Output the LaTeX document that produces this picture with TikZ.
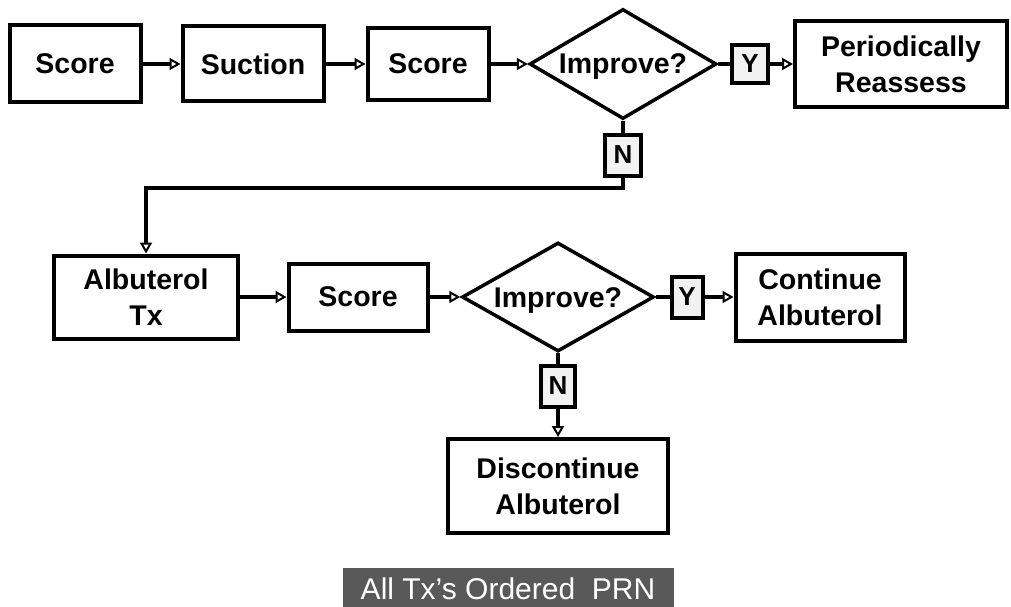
\documentclass[tikz,border=0pt]{standalone}
\usepackage{fontspec}
\setmainfont{Liberation Sans}
\usetikzlibrary{shapes.geometric}
\usetikzlibrary{arrows.meta}

\begin{document}
\begin{tikzpicture}[x=1pt, y=-1pt,
    box/.style={draw, line width=4pt, align=center, inner sep=0pt, font=\fontsize{28.5}{36}\selectfont\bfseries},
    ask/.style={draw, diamond, line width=3.5pt, inner sep=0pt, font=\fontsize{28.5}{36}\selectfont\bfseries},
    yn/.style={draw, fill=gray!10, line width=4pt, inner sep=0pt, font=\fontsize{26}{30}\selectfont\bfseries},
    flow/.style={line width=4pt, -{Triangle[open, length=11pt, width=12pt, line width=2pt]}},
    link/.style={line width=4pt}]
\useasboundingbox (0, 0) rectangle (1011, 607);
\node[box, minimum width=131, minimum height=77] (score1) at (75, 64) {Score};
\node[box, minimum width=141, minimum height=75] (suction) at (253, 64) {Suction};
\node[box, minimum width=121, minimum height=72] (score2) at (428, 64) {Score};
\node[ask, minimum width=187, minimum height=110] (improve1) at (623, 64) {\makebox[0pt]{\raisebox{-10pt}[0pt][0pt]{Improve?}}};
\node[yn, minimum width=36, minimum height=38] (yes1) at (750, 64) {Y};
\node[box, minimum width=212, minimum height=86] (reassess) at (901, 64) {Periodically\\Reassess};
\node[yn, minimum width=36, minimum height=41] (no1) at (623, 155) {N};
\coordinate (bend) at (623, 188);
\node[box, minimum width=184, minimum height=83] (albtx) at (146, 297) {Albuterol\\Tx};
\node[box, minimum width=139, minimum height=67] (score3) at (358, 297) {Score};
\node[ask, minimum width=192, minimum height=109] (improve2) at (558, 297) {\makebox[0pt]{\raisebox{-10pt}[0pt][0pt]{Improve?}}};
\node[yn, minimum width=31, minimum height=41] (yes2) at (687, 297) {Y};
\node[box, minimum width=169, minimum height=87] (contalb) at (820, 297) {Continue\\Albuterol};
\node[yn, minimum width=34, minimum height=41] (no2) at (558, 386) {N};
\node[box, minimum width=220, minimum height=94] (discalb) at (558, 486) {Discontinue\\Albuterol};
\node[fill=black!65, text=white, minimum width=331, minimum height=42, inner sep=0pt,
    font=\fontsize{30}{36}\selectfont] (prn) at (508, 589) {All Tx's Ordered\ \ PRN};
\draw[flow] (score1.east) -- (suction.west);
\draw[flow] (suction.east) -- (score2.west);
\draw[flow] (score2.east) -- (improve1.west);
\draw[link] (improve1.east) -- (yes1.west);
\draw[flow] (yes1.east) -- (reassess.west);
\draw[link] (improve1.south) -- (no1.north);
\draw[flow] (no1.south) -- (bend) -| (albtx.north);
\draw[flow] (albtx.east) -- (score3.west);
\draw[flow] (score3.east) -- (improve2.west);
\draw[link] (improve2.east) -- (yes2.west);
\draw[flow] (yes2.east) -- (contalb.west);
\draw[link] (improve2.south) -- (no2.north);
\draw[flow] (no2.south) -- (discalb.north);
\end{tikzpicture}
\end{document}
